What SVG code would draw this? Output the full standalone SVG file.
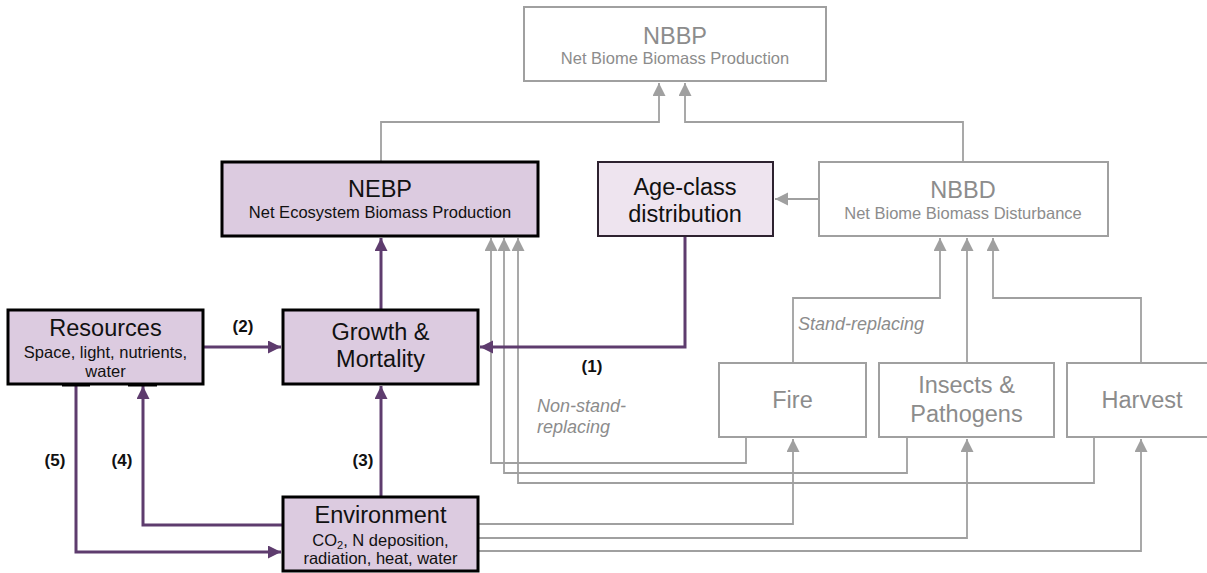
<svg xmlns="http://www.w3.org/2000/svg" width="1207" height="573" viewBox="0 0 1207 573">
<style>
text{font-family:"Liberation Sans",Arial,sans-serif;text-anchor:middle}
.t{font-size:23.5px;fill:#111}
.s{font-size:16.5px;fill:#111}
.gt{font-size:23.5px;fill:#8c8c8c}
.gs{font-size:16.5px;fill:#8c8c8c}
.it{font-size:18px;fill:#8c8c8c;font-style:italic;text-anchor:start}
.lb{font-size:17px;font-weight:bold;fill:#111}
.pb{fill:#dccbe0;stroke:#000;stroke-width:3}
.ab{fill:#eee4ef;stroke:#2e2230;stroke-width:2}
.gb{fill:#fff;stroke:#a0a0a0;stroke-width:2}
.gl{fill:none;stroke:#a0a0a0;stroke-width:1.8}
.pl{fill:none;stroke:#5e3c6e;stroke-width:3}
</style>
<defs>
<marker id="ga" markerUnits="userSpaceOnUse" markerWidth="14" markerHeight="14" refX="13" refY="6.5" orient="auto">
<path d="M0,0 L13,6.5 L0,13 z" fill="#a0a0a0"/>
</marker>
<marker id="pa" markerUnits="userSpaceOnUse" markerWidth="14" markerHeight="14" refX="13" refY="6.5" orient="auto">
<path d="M0,0 L13,6.5 L0,13 z" fill="#5e3c6e"/>
</marker>
</defs>
<rect width="1207" height="573" fill="#fff"/>
<g id="connectors">
<path class="gl" d="M381,162 V122 H659 V83" marker-end="url(#ga)"/>
<path class="gl" d="M963,162 V122 H685 V83" marker-end="url(#ga)"/>
<path class="gl" d="M819,199 H775" marker-end="url(#ga)"/>
<path class="gl" d="M793,363 V298 H940 V238" marker-end="url(#ga)"/>
<path class="gl" d="M967,363 V238" marker-end="url(#ga)"/>
<path class="gl" d="M1141,363 V298 H993 V238" marker-end="url(#ga)"/>
<path class="gl" d="M746,437 V463 H491 V238" marker-end="url(#ga)"/>
<path class="gl" d="M907,437 V473 H504 V238" marker-end="url(#ga)"/>
<path class="gl" d="M1094,437 V483 H518 V238" marker-end="url(#ga)"/>
<path class="gl" d="M478,524 H793 V439" marker-end="url(#ga)"/>
<path class="gl" d="M478,538 H967 V439" marker-end="url(#ga)"/>
<path class="gl" d="M478,551 H1141 V439" marker-end="url(#ga)"/>
<path class="pl" d="M685,236 V347 H480" marker-end="url(#pa)"/>
<path class="pl" d="M203,347 H281" marker-end="url(#pa)"/>
<path class="pl" d="M381,310 V238" marker-end="url(#pa)"/>
<path class="pl" d="M381,497 V386" marker-end="url(#pa)"/>
<path class="pl" d="M283,525 H143 V386" marker-end="url(#pa)"/>
<path class="pl" d="M76,384 V552 H281" marker-end="url(#pa)"/>
<text class="lb" x="243" y="332">(2)</text>
<text class="lb" x="592" y="372">(1)</text>
<text class="lb" x="363" y="466">(3)</text>
<text class="lb" x="122" y="466">(4)</text>
<text class="lb" x="55" y="466">(5)</text>
<text class="it" x="798" y="330">Stand-replacing</text>
<text class="it" x="537" y="412">Non-stand-</text>
<text class="it" x="537" y="433">replacing</text>
</g>
<g id="nbbp">
<rect class="gb" x="524" y="7" width="302" height="74"/>
<text class="gt" x="675" y="44">NBBP</text>
<text class="gs" x="675" y="64">Net Biome Biomass Production</text>
</g>
<g id="nebp">
<rect class="pb" x="222" y="162" width="316" height="74"/>
<text class="t" x="380" y="197">NEBP</text>
<text class="s" x="380" y="218">Net Ecosystem Biomass Production</text>
</g>
<g id="ageclass">
<rect class="ab" x="598" y="162" width="175" height="74"/>
<text class="t" x="685" y="195">Age-class</text>
<text class="t" x="685" y="222">distribution</text>
</g>
<g id="nbbd">
<rect class="gb" x="819" y="162" width="289" height="74"/>
<text class="gt" x="963" y="198">NBBD</text>
<text class="gs" x="963" y="219">Net Biome Biomass Disturbance</text>
</g>
<g id="resources">
<rect class="pb" x="8" y="310" width="195" height="74"/>
<rect x="62" y="384" width="28" height="2.5" fill="#000"/>
<rect x="128" y="384" width="29" height="2.5" fill="#000"/>
<text class="t" x="105.5" y="336">Resources</text>
<text class="s" x="105.5" y="358">Space, light, nutrients,</text>
<text class="s" x="105.5" y="377">water</text>
</g>
<g id="growth">
<rect class="pb" x="283" y="310" width="195" height="74"/>
<text class="t" x="380.5" y="340">Growth &amp;</text>
<text class="t" x="380.5" y="367">Mortality</text>
</g>
<g id="environment">
<rect class="pb" x="283" y="497" width="195" height="74"/>
<text class="t" x="380.5" y="523">Environment</text>
<text class="s" x="380.5" y="546">CO<tspan font-size="11" dy="3">2</tspan><tspan dy="-3">, N deposition,</tspan></text>
<text class="s" x="380.5" y="564">radiation, heat, water</text>
</g>
<g id="fire">
<rect class="gb" x="719" y="363" width="147" height="74"/>
<text class="gt" x="792.5" y="408">Fire</text>
</g>
<g id="insects">
<rect class="gb" x="879" y="363" width="175" height="74"/>
<text class="gt" x="966.5" y="393">Insects &amp;</text>
<text class="gt" x="966.5" y="422">Pathogens</text>
</g>
<g id="harvest">
<rect class="gb" x="1067" y="363" width="150" height="74"/>
<text class="gt" x="1142" y="408">Harvest</text>
</g>
</svg>
